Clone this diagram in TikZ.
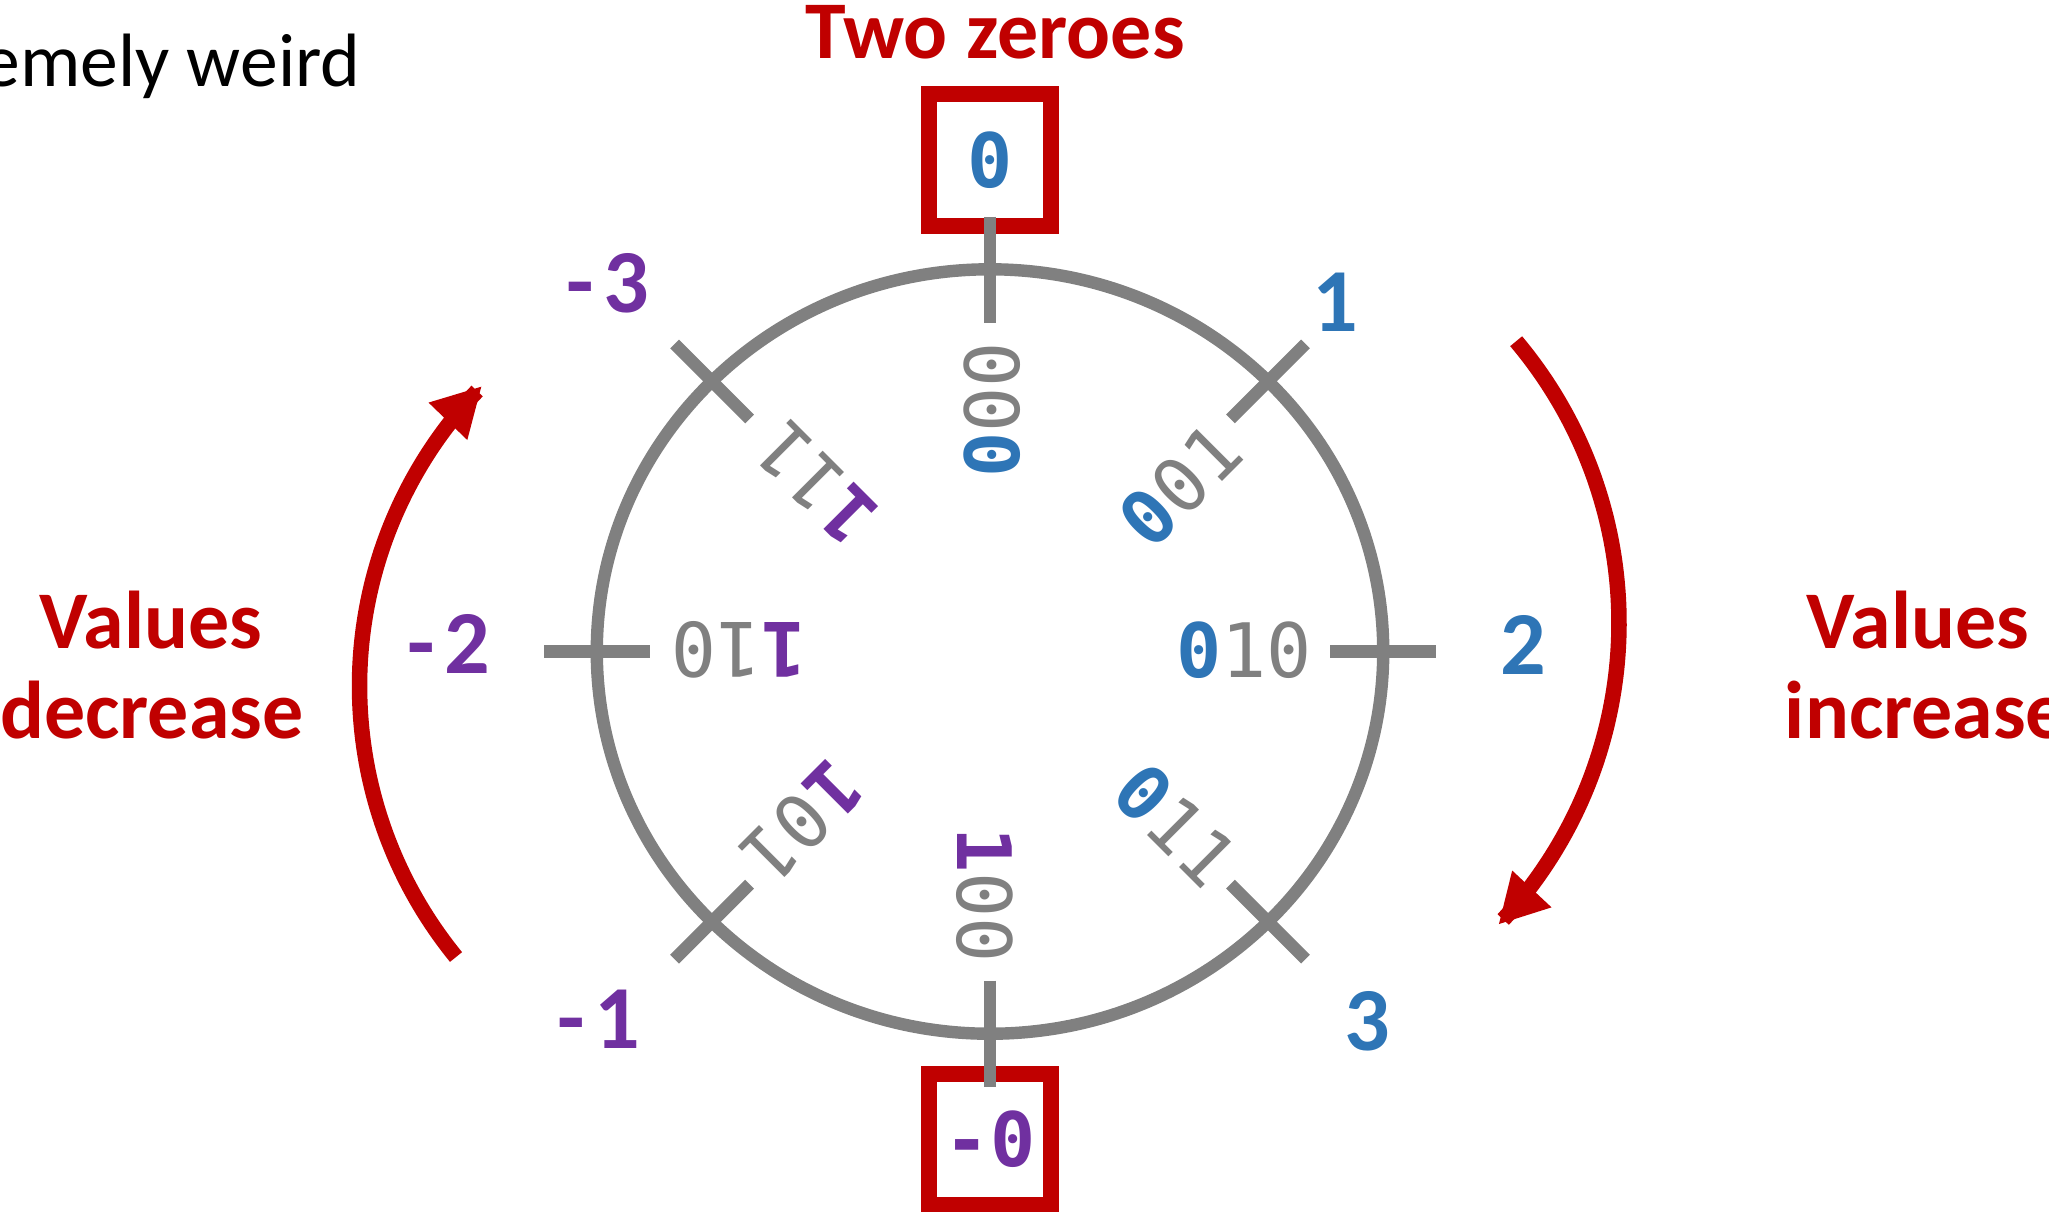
\documentclass[tikz,border=0pt]{standalone}
\usepackage{fontspec}
\setmainfont{Carlito}
\newfontfamily\bitfont[Numbers=SlashedZero]{DejaVu Sans Mono}
\usetikzlibrary{arrows.meta}
\definecolor{cblue}{HTML}{2E75B6}
\definecolor{cpurple}{HTML}{7030A0}
\definecolor{cred}{HTML}{C00000}
\definecolor{cgray}{HTML}{808080}
\begin{document}
\begin{tikzpicture}[x=0.01cm,y=-0.01cm,
  ring/.style={draw=cgray, line width=0.124cm},
  tickline/.style={draw=cgray, line width=0.124cm},
  bits/.style={font=\bitfont\fontsize{21.35}{24}\selectfont, text=cgray, inner sep=0pt},
  val/.style={font=\fontsize{25.6}{28}\selectfont\bfseries, inner sep=0pt},
  zerobox/.style={draw=cred, line width=0.16cm, minimum width=1.22cm, minimum height=1.31cm, inner sep=0pt, font=\bitfont\fontsize{21.35}{24}\selectfont\bfseries},
  note/.style={font=\fontsize{23.3}{26}\selectfont\bfseries, text=cred, inner sep=0pt},
  turn/.style={draw=cred, line width=0.155cm, -{Triangle[length=0.49cm,width=0.5cm]}},
]
\useasboundingbox (0,0) rectangle (2049,1211);

% header texts
\node[font=\fontsize{21.5}{24}\selectfont, anchor=base east, inner sep=0pt] (weird) at (361,86) {emely weird};
\node[note, anchor=base] (title) at (995,58) {Two zeroes};

% boxed zeroes
\node[zerobox, text=cblue] (zpos) at (990,160) {0};
\node[zerobox, text=cpurple] (zneg) at (990,1139.5) {-0};

% ring
\coordinate (c) at (990,651.5);
\draw[ring] (c) ellipse [x radius=3.93cm, y radius=3.82cm];

% ticks
\coordinate (tNa) at (990,216.5);   \coordinate (tNb) at (990,322.5);
\coordinate (tSa) at (990,980.5);   \coordinate (tSb) at (990,1086.5);
\coordinate (tEa) at (1330,651.5);  \coordinate (tEb) at (1436,651.5);
\coordinate (tWa) at (544,651.5);   \coordinate (tWb) at (650,651.5);
\coordinate (tNEa) at (1230.4,418.9); \coordinate (tNEb) at (1305.4,343.9);
\coordinate (tNWa) at (749.6,418.9);  \coordinate (tNWb) at (674.6,343.9);
\coordinate (tSWa) at (749.6,884.1);  \coordinate (tSWb) at (674.6,959.1);
\coordinate (tSEa) at (1230.4,884.1); \coordinate (tSEb) at (1305.4,959.1);
\foreach \t in {N,S,E,W,NE,NW,SW,SE}{\draw[tickline] (t\t a) -- (t\t b);}

% bit patterns
\node[bits, rotate=0]   (b010) at (1244,650) {{\bfseries\color{cblue}0}10};
\node[bits, rotate=45]  (b001) at (1180,485) {{\bfseries\color{cblue}0}01};
\node[bits, rotate=90]  (b000) at (992,410)  {{\bfseries\color{cblue}0}00};
\node[bits, rotate=135] (b111) at (816,483)  {{\bfseries\color{cpurple}1}11};
\node[bits, rotate=180] (b110) at (739,650)  {{\bfseries\color{cpurple}1}10};
\node[bits, rotate=225] (b101) at (802,822)  {{\bfseries\color{cpurple}1}01};
\node[bits, rotate=-90] (b100) at (985,895)  {{\bfseries\color{cpurple}1}00};
\node[bits, rotate=-45] (b011) at (1176,825) {{\bfseries\color{cblue}0}11};

% decimal values
\node[val, text=cblue]   (v1)  at (1335,302)  {1};
\node[val, text=cblue]   (v2)  at (1523,645)  {2};
\node[val, text=cblue]   (v3)  at (1367,1021) {3};
\node[val, text=cpurple] (vm1) at (599,1019)  {-\kern0.1cm 1};
\node[val, text=cpurple] (vm2) at (449,644)   {-\kern0.1cm 2};
\node[val, text=cpurple] (vm3) at (608,283)   {-\kern0.1cm 3};

% direction arrows
\draw[turn] plot[domain=-40.1:43.6, samples=90] ({1181.5+437.5*cos(\x)}, {623+437.5*sin(\x)});
\draw[turn] plot[domain=140.8:224.4, samples=90] ({788.3+428.8*cos(\x)}, {686+428.8*sin(\x)});

% side notes
\node[note, anchor=base] (decA) at (151,648) {Values};
\node[note, anchor=base] (decB) at (152,738) {decrease};
\node[note, anchor=base] (incA) at (1918,648) {Values};
\node[note, anchor=base] (incB) at (1926,738) {increase};
\end{tikzpicture}
\end{document}
